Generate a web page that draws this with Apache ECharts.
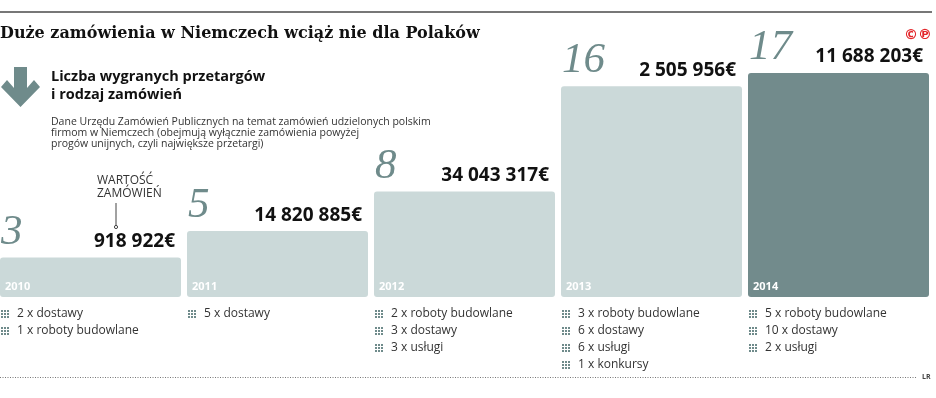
<!DOCTYPE html>
<html>
<head>
<meta charset="utf-8">
<script src="https://cdn.jsdelivr.net/npm/echarts@6/dist/echarts.min.js"></script>
<style>html,body{margin:0;padding:0;background:#fff}#c{width:936px;height:398px}</style>
</head>
<body>
<div id="c"></div>
<script>
const years = ['2010', '2011', '2012', '2013', '2014'];
const counts = [3, 5, 8, 16, 17];
const amounts = ['918 922€', '14 820 885€', '34 043 317€', '2 505 956€', '11 688 203€'];
const orders = [
  ['2 x dostawy', '1 x roboty budowlane'],
  ['5 x dostawy'],
  ['2 x roboty budowlane', '3 x dostawy', '3 x usługi'],
  ['3 x roboty budowlane', '6 x dostawy', '6 x usługi', '1 x konkursy'],
  ['5 x roboty budowlane', '10 x dostawy', '2 x usługi']
];
const title = 'Duże zamówienia w Niemczech wciąż nie dla Polaków';
const subtitle = ['Liczba wygranych przetargów', 'i rodzaj zamówień'];
const description = [
  'Dane Urzędu Zamówień Publicznych na temat zamówień udzielonych polskim',
  'firmom w Niemczech (obejmują wyłącznie zamówienia powyżej',
  'progów unijnych, czyli największe przetargi)'
];

const LIGHT = '#cbd9d9', DARK = '#728b8c', ACCENT = '#6f8b8b';
const BAR_W = 181;

const chart = echarts.init(document.getElementById('c'), null, {renderer: 'canvas'});

function renderAnno(params, api) {
  const i = api.value(0);
  const v = api.value(1);
  const top = api.coord([i, v]);
  const base = api.coord([i, 0]);
  const left = top[0] - BAR_W / 2;
  const right = top[0] + BAR_W / 2;
  const children = [];
  children.push({
    type: 'text',
    style: {
      text: String(counts[i]), x: left + 1, y: top[1] - 25,
      align: 'left', verticalAlign: 'middle',
      font: 'italic 43px "Liberation Serif", serif', fill: ACCENT
    }
  });
  children.push({
    type: 'text',
    style: {
      text: amounts[i], x: right - 6, y: top[1] - 16,
      align: 'right', verticalAlign: 'middle',
      font: 'bold 19px "Noto Sans", sans-serif', fill: '#111'
    }
  });
  const ix = Math.round(left) + 1;
  orders[i].forEach((t, k) => {
    const cy = Math.round(base[1]) + 17 + k * 17;
    for (let r = 0; r < 3; r++) {
      for (let c = 0; c < 3; c++) {
        children.push({
          type: 'rect',
          shape: {x: ix + c * 3, y: cy - 4 + r * 3, width: 2, height: 2},
          style: {fill: ACCENT}
        });
      }
    }
    children.push({
      type: 'text',
      style: {
        text: t, x: left + 17, y: cy,
        align: 'left', verticalAlign: 'middle',
        font: '12px "Open Sans", sans-serif', fill: '#333'
      }
    });
  });
  return {type: 'group', children: children};
}

const option = {
  animation: false,
  grid: {left: -3, right: 4, top: 73, bottom: 101, outerBoundsMode: 'none', containLabel: false},
  xAxis: {type: 'category', data: years, show: false},
  yAxis: {type: 'value', min: 0, max: 17, show: false},
  series: [
    {
      type: 'bar',
      barWidth: BAR_W,
      silent: true,
      data: counts.map((c, i) => ({
        value: c,
        itemStyle: {color: i === counts.length - 1 ? DARK : LIGHT, borderRadius: 3}
      })),
      label: {
        show: true,
        position: 'insideBottomLeft',
        distance: 5,
        formatter: p => years[p.dataIndex],
        color: '#fff',
        fontWeight: 'bold',
        fontSize: 11,
        fontFamily: '"Noto Sans", sans-serif'
      }
    },
    {
      type: 'custom',
      silent: true,
      coordinateSystem: 'cartesian2d',
      data: counts.map((c, i) => [i, c]),
      renderItem: renderAnno,
      z: 5
    }
  ],
  graphic: [
    {type: 'line', shape: {x1: 0, y1: 12, x2: 932, y2: 12}, style: {stroke: '#777', lineWidth: 2}},
    {type: 'text', style: {text: title, x: 0, y: 34, verticalAlign: 'middle', font: 'bold 16px "DejaVu Serif", serif', fill: '#111'}},
    {type: 'text', style: {text: '©℗', x: 932, y: 35, align: 'right', verticalAlign: 'middle', font: 'bold 14px "DejaVu Sans", sans-serif', fill: '#e3262a'}},
    {type: 'polygon', shape: {points: [[14, 67], [27, 67], [27, 88], [34, 80], [40, 87], [20.5, 107], [1, 87], [7, 80], [14, 88]]}, style: {fill: ACCENT}},
    {type: 'text', style: {text: subtitle[0], x: 51, y: 77, verticalAlign: 'middle', font: 'bold 14.5px "Open Sans", sans-serif', fill: '#111'}},
    {type: 'text', style: {text: subtitle[1], x: 51, y: 95, verticalAlign: 'middle', font: 'bold 14.5px "Open Sans", sans-serif', fill: '#111'}},
    {type: 'text', style: {text: description.join('\n'), x: 51, y: 117, lineHeight: 11, verticalAlign: 'top', font: '10.5px "Open Sans", sans-serif', fill: '#333'}},
    {type: 'text', style: {text: 'WARTOŚĆ\nZAMÓWIEŃ', x: 97, y: 174, lineHeight: 13, verticalAlign: 'top', font: '12px "Open Sans", sans-serif', fill: '#333'}},
    {type: 'line', shape: {x1: 116, y1: 203, x2: 116, y2: 226}, style: {stroke: '#444', lineWidth: 1}},
    {type: 'circle', shape: {cx: 116, cy: 227, r: 1.6}, style: {fill: '#fff', stroke: '#444', lineWidth: 1}},
    {type: 'line', shape: {x1: 0, y1: 377.5, x2: 917, y2: 377.5}, style: {stroke: '#777', lineWidth: 1, lineDash: [1, 1.5]}},
    {type: 'text', style: {text: 'LR', x: 922, y: 377, verticalAlign: 'middle', font: 'bold 7px "Open Sans", sans-serif', fill: '#444'}}
  ]
};
chart.setOption(option);
</script>
</body>
</html>
